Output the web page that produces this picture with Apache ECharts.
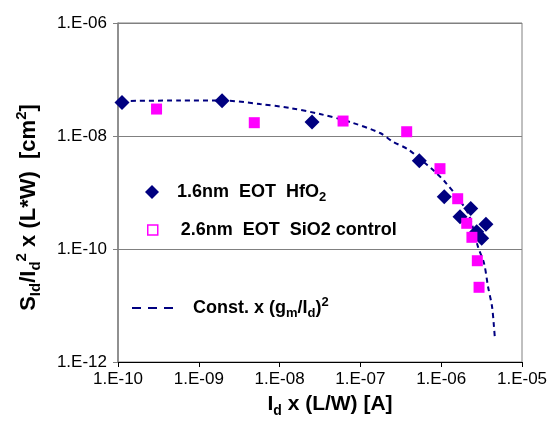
<!DOCTYPE html>
<html>
<head>
<meta charset="utf-8">
<script src="https://cdn.jsdelivr.net/npm/echarts@6/dist/echarts.min.js"></script>
<style>
  html, body { margin: 0; padding: 0; background: #ffffff; }
  #chart { width: 552px; height: 430px; }
</style>
</head>
<body>
<div id="chart"></div>
<script>
// Normalized drain-current noise S_Id/Id^2 x (L*W) versus normalized drain current Id x (L/W)

// 1.6nm EOT HfO2 devices
const hfo2Current = [1.12e-10, 1.94e-9, 2.52e-8, 5.36e-7, 1.09e-6, 2.32e-6, 1.71e-6, 3.58e-6, 2.75e-6, 3.17e-6];
const hfo2Noise   = [3.9e-8,   4.2e-8,  1.77e-8, 3.66e-9, 8.4e-10, 5.2e-10, 3.73e-10, 2.74e-10, 2.02e-10, 1.55e-10];

// 2.6nm EOT SiO2 control devices
const sio2Current = [3.0e-10, 4.86e-9, 6.1e-8,  3.74e-7, 9.66e-7, 1.6e-6,  2.07e-6,  2.4e-6,   2.8e-6,  2.94e-6];
const sio2Noise   = [3.0e-8,  1.72e-8, 1.84e-8, 1.19e-8, 2.64e-9, 7.76e-10, 2.85e-10, 1.61e-10, 6.2e-11, 2.1e-11];

// Const. x (gm/Id)^2 curve
const fitCurrent = [1.12e-10, 5.85e-10, 1.94e-9, 5.72e-9, 1.34e-8, 3.16e-8, 7.44e-8, 1.75e-7, 2.53e-7, 3.88e-7,
                    5.47e-7, 8.38e-7, 1.11e-6, 1.57e-6, 2.15e-6, 2.48e-6, 2.85e-6, 3.39e-6, 3.80e-6, 4.26e-6, 4.50e-6, 4.63e-6];
const fitNoise   = [4.16e-8, 4.25e-8, 4.25e-8, 3.68e-8, 3.13e-8, 2.45e-8, 1.77e-8, 1.13e-8, 7.93e-9, 5.82e-9,
                    3.92e-9, 2.33e-9, 1.55e-9, 8.43e-10, 4.29e-10, 2.35e-10, 1.10e-10, 5.58e-11, 2.15e-11, 9.5e-12, 4.2e-12, 2.5e-12];

// Axis tick labels, indexed by decade
const xTickLabels = ['1.E-10', '1.E-09', '1.E-08', '1.E-07', '1.E-06', '1.E-05'];
const yTickLabels = ['1.E-12', '1.E-10', '1.E-08', '1.E-06'];

const seriesNames = ['1.6nm EOT HfO2', '2.6nm EOT SiO2 control', 'Const. x (gm/Id)^2'];

const FONT = "'Liberation Sans', Arial, Helvetica, sans-serif";
const NAVY = '#000080';
const PINK = '#ff00ff';

const zip = (xs, ys) => xs.map((x, i) => [x, ys[i]]);

// bold text with sub/superscript runs
function richSet(size, small, lh) {
  const base = { fontFamily: FONT, fontWeight: 'bold', color: '#000' };
  return {
    t:   Object.assign({ fontSize: size,  lineHeight: lh, verticalAlign: 'middle' }, base),
    sub: Object.assign({ fontSize: small, lineHeight: small + 2, verticalAlign: 'bottom' }, base),
    sup: Object.assign({ fontSize: small, lineHeight: small + 2, verticalAlign: 'top' }, base),
    g1:  { width: 13 },
    g2:  { width: 18 },
    g3:  { width: 15 }
  };
}
const xTitleRich = richSet(21, 14, 28);
const yTitleRich = richSet(22, 15, 29);
const legendRich = richSet(18, 13, 24);

const legendLabels = {
  [seriesNames[0]]: '{g1|}{t|1.6nm  EOT  HfO}{sub|2}',
  [seriesNames[1]]: '{g2|}{t|2.6nm  EOT  SiO2 control}',
  [seriesNames[2]]: '{g3|}{t|Const. x (g}{sub|m}{t|/I}{sub|d}{t|)}{sup|2}'
};

function legendAt(name, left, top, w, h, dataItem) {
  return {
    left: left, top: top, orient: 'vertical', padding: 0,
    itemWidth: w, itemHeight: h, selectedMode: false,
    data: [Object.assign({ name: name }, dataItem)],
    formatter: n => legendLabels[n],
    textStyle: { rich: legendRich }
  };
}

const chart = echarts.init(document.getElementById('chart'), null, { renderer: 'canvas' });

chart.setOption({
  animation: false,
  backgroundColor: '#ffffff',
  grid: {
    left: 118, right: 30, top: 23, bottom: 68,
    show: true, borderColor: '#808080', borderWidth: 1, backgroundColor: 'transparent'
  },
  legend: [
    legendAt(seriesNames[0], 145, 183, 14, 14, { icon: 'diamond', itemStyle: { color: NAVY } }),
    legendAt(seriesNames[1], 147, 221, 10, 10, { icon: 'rect', itemStyle: { color: '#ffffff', borderColor: PINK, borderWidth: 1.5 } }),
    legendAt(seriesNames[2], 132, 296, 41, 2, {
      icon: 'path://M0,0h9v2h-9zM16,0h9v2h-9zM32,0h9v2h-9z',
      itemStyle: { color: NAVY, borderWidth: 0 }
    })
  ],
  xAxis: {
    type: 'log', logBase: 10, min: 1e-10, max: 1e-5,
    name: '{t|I}{sub|d}{t| x (L/W) [A]}',
    nameLocation: 'middle', nameGap: 28,
    nameTextStyle: { rich: xTitleRich, padding: [0, 0, 0, 20] },
    axisLine: { show: true, lineStyle: { color: '#000000', width: 1 } },
    axisTick: { show: true, inside: false, length: 5, lineStyle: { color: '#000000' } },
    minorTick: { show: false },
    splitLine: { show: false },
    axisLabel: {
      margin: 9, color: '#000', fontFamily: FONT, fontSize: 17,
      formatter: v => xTickLabels[Math.round(Math.log10(v)) + 10]
    }
  },
  yAxis: {
    type: 'log', logBase: 100, min: 1e-12, max: 1e-6,
    name: '{t|S}{sub|Id}{t|/I}{sub|d}{sup|2}{t| x (L*W)  [cm}{sup|2}{t|]}',
    nameLocation: 'middle', nameRotate: 90, nameGap: 75,
    nameTextStyle: { rich: yTitleRich, padding: [0, 30, 0, 0] },
    axisLine: { show: true, lineStyle: { color: '#808080', width: 1.5 } },
    axisTick: { show: true, inside: false, length: 5, lineStyle: { color: '#808080' } },
    minorTick: { show: false },
    splitLine: { show: true, lineStyle: { color: '#808080', width: 1 } },
    axisLabel: {
      margin: 11, color: '#000', fontFamily: FONT, fontSize: 17,
      formatter: v => yTickLabels[Math.round((Math.log10(v) + 12) / 2)]
    }
  },
  series: [
    {
      name: seriesNames[2], type: 'line', data: zip(fitCurrent, fitNoise),
      symbol: 'none', smooth: 0.3, z: 2,
      lineStyle: { color: NAVY, width: 2, type: [5, 4] },
      itemStyle: { color: NAVY }
    },
    {
      name: seriesNames[0], type: 'scatter', data: zip(hfo2Current, hfo2Noise),
      symbol: 'diamond', symbolSize: 15, z: 3,
      itemStyle: { color: NAVY, opacity: 1 }
    },
    {
      name: seriesNames[1], type: 'scatter', data: zip(sio2Current, sio2Noise),
      symbol: 'rect', symbolSize: 11, z: 4,
      itemStyle: { color: PINK, opacity: 1 }
    }
  ]
});
</script>
</body>
</html>
